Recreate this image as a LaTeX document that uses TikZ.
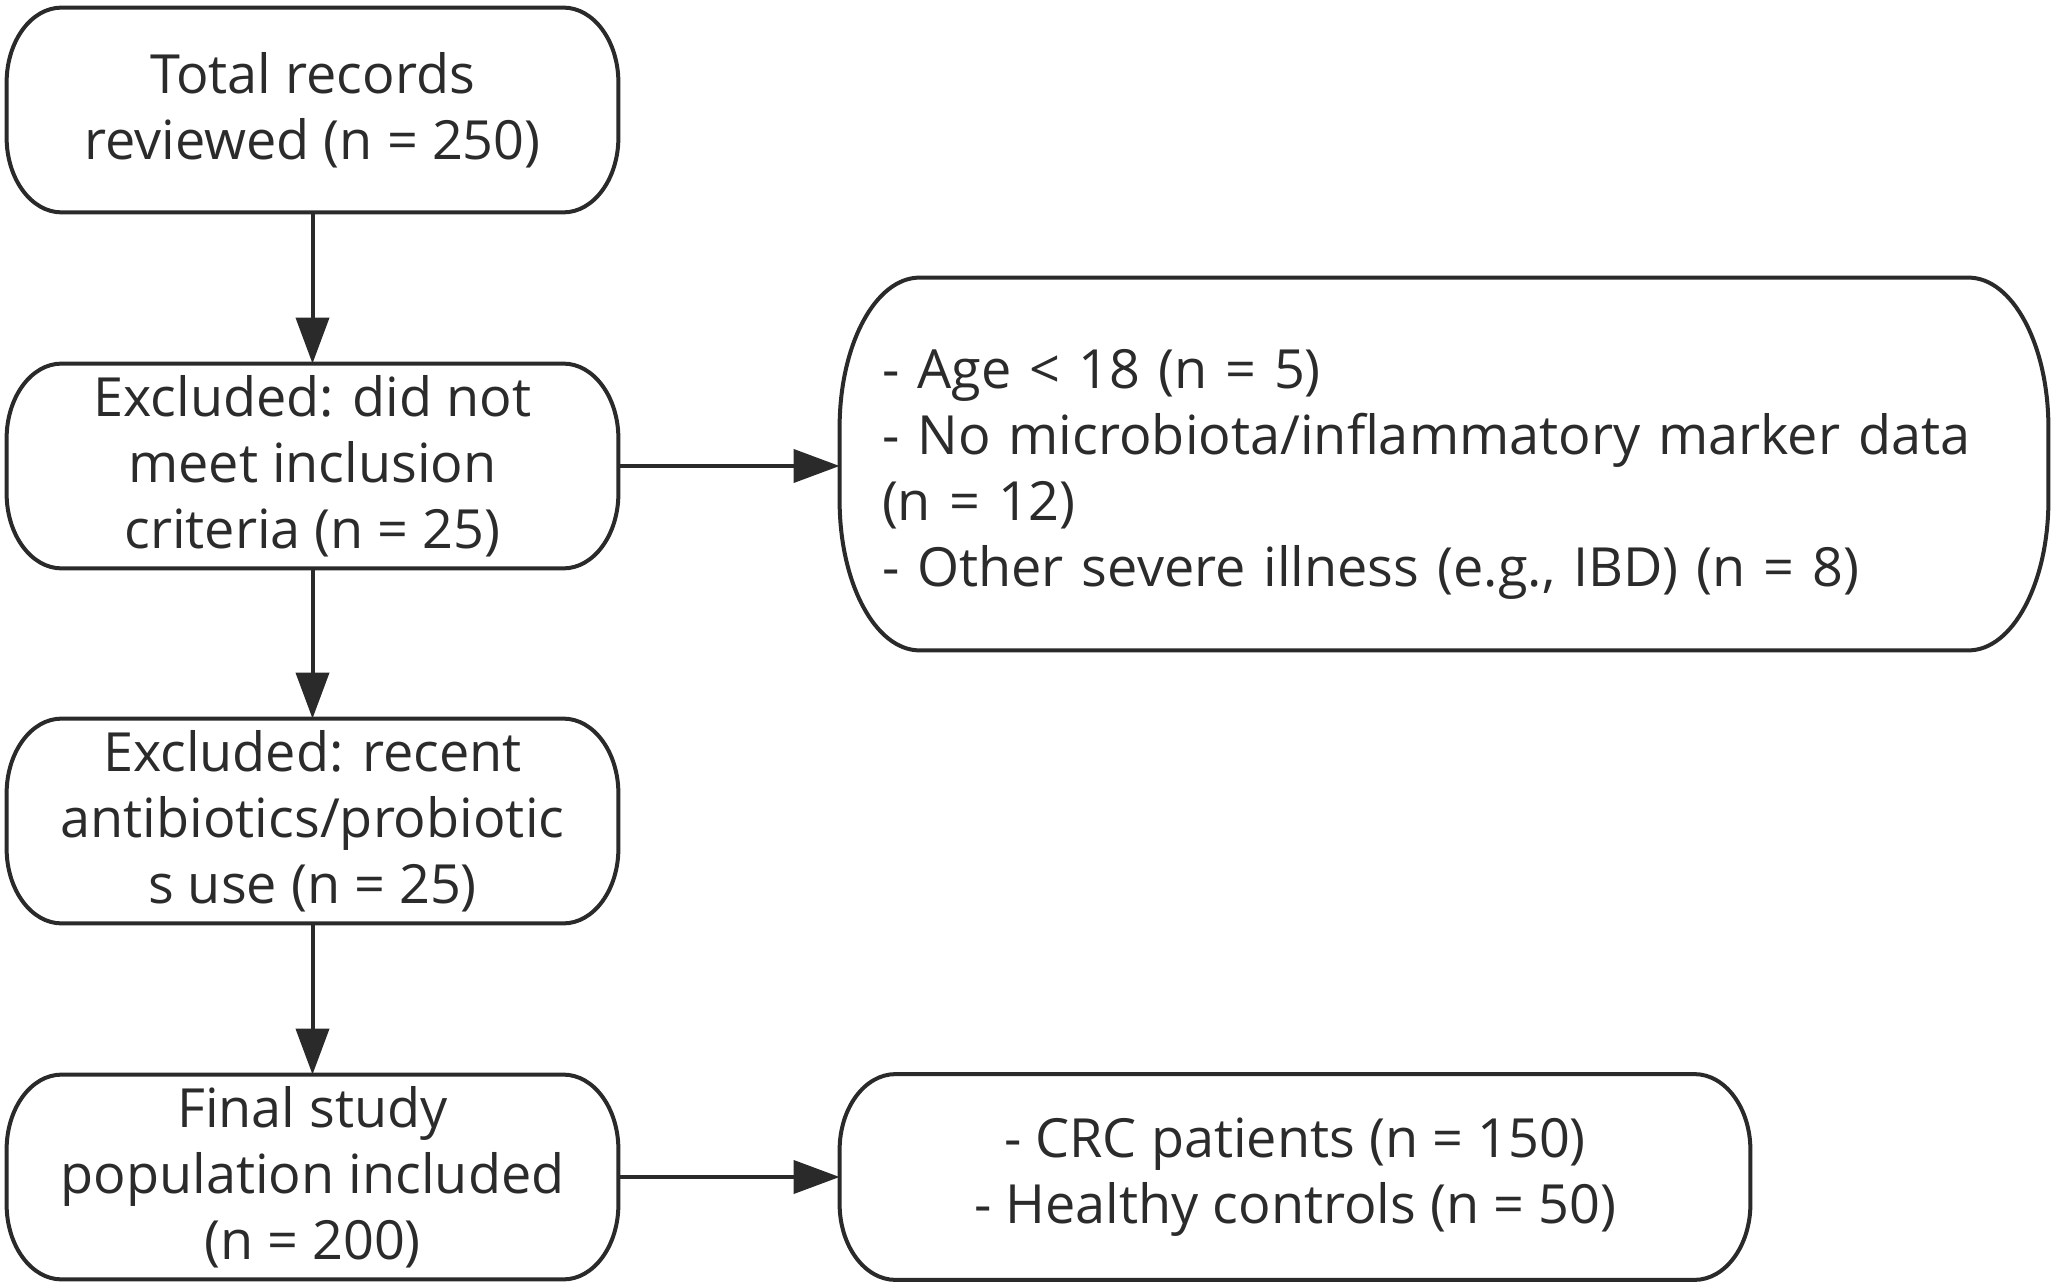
\documentclass[tikz,border=0pt]{standalone}
\usepackage{fontspec}
\setmainfont{Open Sans}
\usetikzlibrary{arrows.meta}
\definecolor{ink}{HTML}{2A2A2A}
\definecolor{txt}{HTML}{2B2B2B}
\begin{document}
\begin{tikzpicture}[x=0.5pt,y=-0.5pt,
  box/.style={rectangle, inner sep=0pt, minimum width=305.5pt, minimum height=102pt,
    align=center, text=txt, font=\fontsize{27}{33}\selectfont},
  outline/.style={draw=ink, line width=2pt},
  arrow/.style={draw=ink, line width=2pt, -{Triangle[length=23pt,width=16.5pt]}}]
\useasboundingbox (0,0) rectangle (2059,1288);
\node[box] (b1) at (312.5,110) {Total records\\reviewed (n = 250)};
\node[box] (b2) at (312.5,466) {Excluded: did not\\meet inclusion\\criteria (n = 25)};
\node[box] (b4) at (312.5,821) {Excluded: recent\\antibiotics/probiotic\\s use (n = 25)};
\node[box] (b5) at (312.5,1177) {Final study\\population included\\(n = 200)};
\node[box, minimum width=604pt, minimum height=186pt, align=left, text width=562pt] (b3) at (1444,464)
  {\rule{0pt}{29.5pt}- Age < 18 (n = 5)\\- No microbiota/inflammatory marker data\\(n = 12)\\- Other severe illness (e.g., IBD) (n = 8)};
\node[box, minimum width=455pt, minimum height=102.5pt] (b6) at (1295,1177)
  {- CRC patients (n = 150)\\- Healthy controls (n = 50)};
\foreach \n/\rx/\ry in {b1/27.5/37.5, b2/27.5/37.5, b4/27.5/37.5, b5/27.5/37.5, b3/40/75, b6/28/38}
  \draw[outline] ([xshift=\rx pt]\n.north west) -- ([xshift=-\rx pt]\n.north east)
    arc[start angle=90,end angle=0,x radius=\rx pt,y radius=\ry pt]
    -- ([yshift=\ry pt]\n.south east)
    arc[start angle=0,end angle=-90,x radius=\rx pt,y radius=\ry pt]
    -- ([xshift=\rx pt]\n.south west)
    arc[start angle=270,end angle=180,x radius=\rx pt,y radius=\ry pt]
    -- ([yshift=-\ry pt]\n.north west)
    arc[start angle=180,end angle=90,x radius=\rx pt,y radius=\ry pt] -- cycle;
\draw[arrow] (b1.south) -- (b2.north);
\draw[arrow] (b2.south) -- (b4.north);
\draw[arrow] (b4.south) -- (b5.north);
\draw[arrow] (b2.east) -- (b2.east -| b3.west);
\draw[arrow] (b5.east) -- (b5.east -| b6.west);
\end{tikzpicture}
\end{document}
